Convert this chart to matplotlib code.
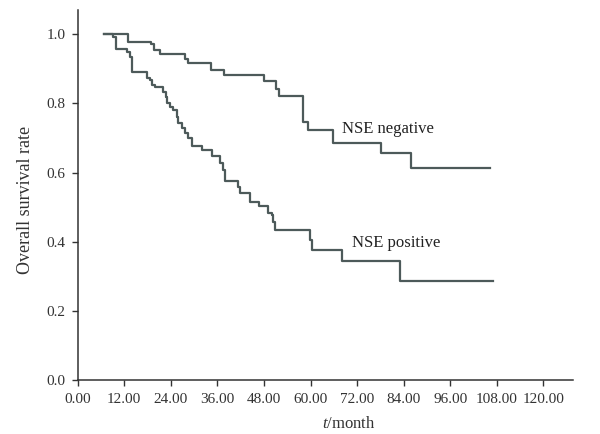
import matplotlib
matplotlib.use('Agg')
import matplotlib.pyplot as plt

# Kaplan-Meier steps (time in months, survival after the step)
neg_time = [6.8, 13.0, 18.8, 19.7, 21.2, 27.7, 28.5, 34.4, 37.7, 48.0, 51.1, 51.9,
            58.0, 59.4, 65.8, 78.1, 85.8, 106.1]
neg_surv = [1.0, 0.978, 0.97, 0.954, 0.941, 0.927, 0.915, 0.896, 0.881, 0.864, 0.841,
            0.822, 0.745, 0.723, 0.684, 0.656, 0.612, 0.612]

pos_time = [6.8, 9.2, 9.9, 12.6, 13.5, 13.9, 17.8, 18.6, 19.1, 19.9, 22.1, 22.8, 23.1,
            23.8, 24.6, 25.5, 25.9, 26.8, 27.7, 28.5, 29.4, 32.0, 34.5, 36.7, 37.5, 38.0,
            41.4, 41.8, 44.4, 46.6, 49.1, 50.0, 50.4, 50.9, 59.9, 60.3, 68.2, 83.1, 107.1]
pos_surv = [1.0, 0.99, 0.956, 0.949, 0.934, 0.891, 0.874, 0.867, 0.853, 0.846, 0.833,
            0.817, 0.80, 0.79, 0.78, 0.761, 0.742, 0.728, 0.713, 0.699, 0.677, 0.665,
            0.648, 0.627, 0.607, 0.577, 0.559, 0.540, 0.516, 0.502, 0.483, 0.478, 0.458,
            0.434, 0.405, 0.376, 0.345, 0.287, 0.287]

x_ticks = [0, 12, 24, 36, 48, 60, 72, 84, 96, 108, 120]
y_ticks = [0.0, 0.2, 0.4, 0.6, 0.8, 1.0]

plt.rcParams['font.family'] = ['Liberation Serif', 'DejaVu Serif']
plt.rcParams['mathtext.fontset'] = 'custom'
plt.rcParams['mathtext.rm'] = 'Liberation Serif'
plt.rcParams['mathtext.it'] = 'Liberation Serif:italic'

fig = plt.figure(figsize=(6, 4.34), dpi=100)
ax = fig.add_axes([0.1295, 0.1233, 0.8255, 0.8537])

line_color = '#4d5a5a'
ax.step(neg_time, neg_surv, where='post', color=line_color, linewidth=1.6)
ax.step(pos_time, pos_surv, where='post', color=line_color, linewidth=1.6)

ax.text(68.2, 0.726, 'NSE negative', fontsize=12, color='#222222', va='center', ha='left')
ax.text(70.7, 0.397, 'NSE positive', fontsize=12, color='#222222', va='center', ha='left')

ax.set_xlim(0, 127.6)
ax.set_ylim(0, 1.069)
ax.set_xticks(x_ticks)
ax.set_xticklabels(['%.2f' % v for v in x_ticks])
ax.set_yticks(y_ticks)
ax.set_yticklabels(['%.1f' % v for v in y_ticks])

for side in ['top', 'right']:
    ax.spines[side].set_visible(False)
for side in ['left', 'bottom']:
    ax.spines[side].set_color('#333333')
    ax.spines[side].set_linewidth(1.1)

ax.tick_params(direction='out', length=4, width=1, colors='#333333',
               labelsize=11, labelcolor='#333333')
ax.tick_params(axis='x', pad=5)
ax.tick_params(axis='y', pad=5)

ax.set_xlabel('$\\it{t}$/month', fontsize=12, color='#333333')
ax.xaxis.set_label_coords(0.548, -0.097)
ax.set_ylabel('Overall survival rate', fontsize=13, color='#333333')
ax.yaxis.set_label_coords(-0.088, 0.487)

fig.savefig('out.png', dpi=100)
